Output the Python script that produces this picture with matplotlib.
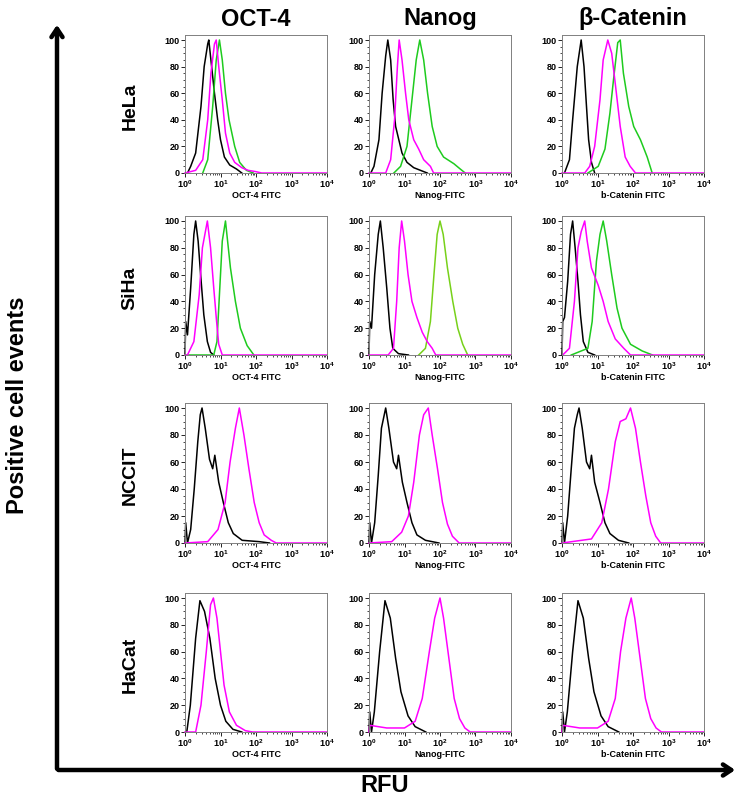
import numpy as np
import matplotlib as mpl
mpl.use('Agg')
import matplotlib.pyplot as plt
from matplotlib.ticker import LogLocator, MultipleLocator, FixedLocator

plt.rcParams['font.family'] = ['Liberation Sans', 'DejaVu Sans']
plt.rcParams['mathtext.fontset'] = 'custom'
plt.rcParams['mathtext.rm'] = 'Liberation Sans:bold'
plt.rcParams['mathtext.bf'] = 'Liberation Sans:bold'

cell_lines = ['HeLa', 'SiHa', 'NCCIT', 'HaCat']
markers = ['OCT-4', 'Nanog', '\u03b2-Catenin']
xlabels = ['OCT-4 FITC', 'Nanog-FITC', 'b-Catenin FITC']

# curves: (log10 FITC, % of max)
# HeLa
hela_oct4_iso = ([0.07, 0.16, 0.3, 0.45, 0.54, 0.64, 0.67, 0.73, 0.83, 0.92, 1.0, 1.11, 1.26, 1.45, 1.6],
                 [0, 5, 15, 50, 80, 97, 100, 85, 60, 40, 25, 12, 6, 3, 0])
hela_oct4_mag = ([0.0, 0.3, 0.5, 0.64, 0.73, 0.83, 0.88, 0.95, 1.05, 1.14, 1.26, 1.4, 1.6, 1.78, 2.0, 2.16, 4.0],
                 [0, 2, 10, 40, 75, 97, 100, 80, 55, 30, 15, 8, 4, 2, 1, 0, 0])
hela_oct4_grn = ([0.5, 0.64, 0.78, 0.88, 0.97, 1.05, 1.14, 1.24, 1.4, 1.54, 1.73, 1.92],
                 [0, 10, 50, 85, 100, 85, 60, 40, 20, 8, 2, 0])
hela_nanog_iso = ([0.05, 0.14, 0.28, 0.37, 0.47, 0.53, 0.61, 0.68, 0.75, 0.84, 0.93, 1.07, 1.26, 1.45, 1.64],
                  [0, 5, 25, 60, 88, 100, 85, 55, 35, 25, 15, 8, 4, 2, 0])
hela_nanog_mag = ([0.0, 0.47, 0.61, 0.72, 0.8, 0.85, 0.93, 1.03, 1.12, 1.26, 1.4, 1.54, 1.73, 1.82, 4.0],
                  [0, 0, 10, 40, 80, 100, 85, 60, 40, 25, 18, 10, 5, 0, 0])
hela_nanog_grn = ([0.7, 0.89, 1.07, 1.21, 1.33, 1.43, 1.54, 1.65, 1.78, 1.92, 2.1, 2.39, 2.57, 2.71],
                  [0, 5, 20, 55, 85, 100, 85, 60, 35, 20, 12, 7, 3, 0])
hela_bcat_iso = ([0.07, 0.21, 0.3, 0.43, 0.54, 0.62, 0.69, 0.75, 0.83, 0.92],
                 [0, 10, 40, 80, 100, 80, 50, 25, 8, 0])
hela_bcat_mag = ([0.0, 0.64, 0.78, 0.92, 1.07, 1.16, 1.29, 1.4, 1.51, 1.64, 1.78, 1.92, 2.07, 4.0],
                 [0, 0, 5, 20, 55, 85, 100, 90, 65, 35, 12, 5, 0, 0])
hela_bcat_grn = ([0.73, 1.02, 1.21, 1.35, 1.45, 1.57, 1.64, 1.73, 1.88, 2.02, 2.21, 2.4, 2.54],
                 [0, 5, 18, 45, 70, 98, 100, 75, 50, 35, 25, 12, 0])
# SiHa
siha_oct4_iso = ([0.0, 0.02, 0.07, 0.16, 0.25, 0.3, 0.37, 0.44, 0.53, 0.63, 0.72, 0.81],
                 [0, 25, 15, 50, 90, 100, 85, 60, 30, 10, 2, 0])
siha_oct4_mag = ([0.0, 0.07, 0.25, 0.4, 0.49, 0.63, 0.72, 0.81, 0.89, 0.95, 1.05, 4.0],
                 [0, 0, 10, 45, 80, 100, 80, 50, 25, 8, 0, 0])
siha_oct4_grn = ([0.0, 0.81, 0.9, 0.98, 1.05, 1.14, 1.2, 1.28, 1.42, 1.56, 1.75, 1.94],
                 [0, 0, 10, 50, 85, 100, 85, 65, 40, 20, 7, 0])
siha_nanog_iso = ([0.0, 0.02, 0.07, 0.16, 0.26, 0.32, 0.4, 0.5, 0.59, 0.67, 0.83, 1.11],
                  [0, 25, 20, 60, 90, 100, 80, 50, 20, 5, 1, 0])
siha_nanog_mag = ([0.0, 0.54, 0.69, 0.78, 0.85, 0.92, 1.0, 1.1, 1.21, 1.35, 1.5, 1.64, 1.78, 1.88, 4.0],
                  [0, 0, 5, 40, 80, 100, 85, 60, 40, 28, 17, 10, 5, 0, 0])
siha_nanog_grn = ([1.4, 1.59, 1.73, 1.83, 1.92, 2.0, 2.09, 2.21, 2.36, 2.5, 2.64, 2.78],
                  [0, 5, 25, 60, 90, 100, 90, 65, 40, 20, 8, 0])
siha_bcat_iso = ([0.0, 0.02, 0.07, 0.16, 0.24, 0.3, 0.37, 0.45, 0.52, 0.6, 0.73, 0.92],
                 [0, 25, 28, 55, 90, 100, 80, 55, 30, 10, 2, 0])
siha_bcat_mag = ([0.02, 0.21, 0.35, 0.45, 0.54, 0.64, 0.71, 0.83, 1.02, 1.16, 1.3, 1.5, 1.74, 1.93, 4.0],
                 [0, 5, 40, 80, 92, 100, 85, 65, 52, 40, 25, 12, 5, 0, 0])
siha_bcat_grn = ([0.26, 0.54, 0.73, 0.85, 0.97, 1.07, 1.16, 1.26, 1.4, 1.55, 1.69, 1.93, 2.26, 2.55],
                 [0, 3, 5, 25, 70, 90, 100, 85, 60, 35, 20, 8, 3, 0])
# NCCIT
nccit_oct4_iso = ([0.0, 0.02, 0.07, 0.16, 0.26, 0.36, 0.43, 0.48, 0.57, 0.69, 0.78, 0.84, 0.95, 1.08, 1.22, 1.36, 1.61, 2.09, 2.38],
                  [0, 15, 0, 10, 40, 75, 95, 100, 85, 62, 55, 65, 45, 30, 15, 7, 2, 1, 0])
nccit_oct4_mag = ([0.0, 0.64, 0.93, 1.13, 1.27, 1.42, 1.53, 1.66, 1.8, 1.95, 2.09, 2.23, 2.43, 2.57, 4.0],
                  [0, 1, 10, 30, 60, 85, 100, 80, 55, 30, 15, 6, 2, 0, 0])
nccit_nanog_iso = ([0.0, 0.02, 0.07, 0.16, 0.26, 0.35, 0.43, 0.47, 0.56, 0.69, 0.78, 0.83, 0.94, 1.07, 1.21, 1.35, 1.59, 1.97],
                   [0, 15, 0, 15, 50, 85, 95, 100, 85, 60, 55, 65, 45, 30, 15, 6, 2, 0])
nccit_nanog_mag = ([0.0, 0.64, 0.92, 1.11, 1.26, 1.42, 1.54, 1.67, 1.78, 1.93, 2.07, 2.21, 2.35, 2.54, 4.0],
                   [0, 1, 8, 20, 45, 80, 95, 100, 80, 55, 30, 14, 5, 0, 0])
nccit_bcat_iso = ([0.0, 0.02, 0.07, 0.16, 0.26, 0.35, 0.43, 0.48, 0.57, 0.69, 0.78, 0.83, 0.92, 1.07, 1.21, 1.35, 1.59, 1.88],
                  [0, 15, 0, 20, 55, 85, 95, 100, 85, 60, 55, 65, 45, 30, 15, 7, 2, 0])
nccit_bcat_mag = ([0.0, 0.83, 1.12, 1.31, 1.5, 1.64, 1.8, 1.93, 2.07, 2.21, 2.36, 2.5, 2.64, 2.78, 4.0],
                  [0, 3, 15, 40, 75, 90, 92, 100, 85, 60, 35, 15, 5, 0, 0])
# HaCat
hacat_oct4_iso = ([0.05, 0.15, 0.3, 0.42, 0.55, 0.7, 0.85, 1.0, 1.15, 1.35, 1.6],
                  [0, 20, 70, 98, 90, 70, 40, 20, 8, 2, 0])
hacat_oct4_mag = ([0.0, 0.3, 0.45, 0.6, 0.72, 0.8, 0.9, 1.0, 1.1, 1.25, 1.45, 1.7, 1.9, 4.0],
                  [0, 0, 20, 60, 95, 100, 85, 60, 35, 15, 5, 1, 0, 0])
hacat_nanog_iso = ([0.0, 0.02, 0.07, 0.15, 0.3, 0.45, 0.6, 0.75, 0.9, 1.1, 1.3, 1.6],
                   [0, 15, 0, 15, 60, 98, 85, 55, 30, 12, 4, 0])
hacat_nanog_mag = ([0.0, 0.02, 0.5, 1.0, 1.3, 1.5, 1.7, 1.85, 2.0, 2.1, 2.25, 2.4, 2.55, 2.7, 2.85, 4.0],
                   [0, 5, 3, 3, 8, 25, 60, 85, 100, 85, 55, 25, 10, 3, 0, 0])
hacat_bcat_iso = ([0.0, 0.02, 0.07, 0.15, 0.3, 0.45, 0.6, 0.75, 0.9, 1.1, 1.3, 1.6],
                  [0, 15, 0, 15, 60, 98, 85, 55, 30, 12, 4, 0])
hacat_bcat_mag = ([0.0, 0.02, 0.5, 1.0, 1.3, 1.5, 1.65, 1.8, 1.95, 2.05, 2.2, 2.35, 2.5, 2.65, 2.8, 4.0],
                  [0, 5, 3, 3, 8, 25, 60, 85, 100, 85, 55, 25, 10, 3, 0, 0])

BLACK, MAG, GRN, YGRN = 'black', '#ff00ff', '#1ecb1e', '#77d11a'

# drawing order: isotype, green, magenta (magenta baseline ends on top)
panels = [
    [[(hela_oct4_iso, BLACK), (hela_oct4_grn, GRN), (hela_oct4_mag, MAG)],
     [(hela_nanog_iso, BLACK), (hela_nanog_grn, GRN), (hela_nanog_mag, MAG)],
     [(hela_bcat_iso, BLACK), (hela_bcat_grn, GRN), (hela_bcat_mag, MAG)]],
    [[(siha_oct4_iso, BLACK), (siha_oct4_grn, GRN), (siha_oct4_mag, MAG)],
     [(siha_nanog_iso, BLACK), (siha_nanog_grn, YGRN), (siha_nanog_mag, MAG)],
     [(siha_bcat_iso, BLACK), (siha_bcat_grn, GRN), (siha_bcat_mag, MAG)]],
    [[(nccit_oct4_iso, BLACK), (nccit_oct4_mag, MAG)],
     [(nccit_nanog_iso, BLACK), (nccit_nanog_mag, MAG)],
     [(nccit_bcat_iso, BLACK), (nccit_bcat_mag, MAG)]],
    [[(hacat_oct4_iso, BLACK), (hacat_oct4_mag, MAG)],
     [(hacat_nanog_iso, BLACK), (hacat_nanog_mag, MAG)],
     [(hacat_bcat_iso, BLACK), (hacat_bcat_mag, MAG)]],
]

W, H = 742, 800
fig = plt.figure(figsize=(W / 100, H / 100), dpi=100)

col_left = [185, 369, 562]
col_w = 142
row_zero = [173, 355, 543, 732]
row_hundred = [40, 221, 408, 598]
YTOP = 104

for r in range(4):
    span = row_zero[r] - row_hundred[r]
    top = row_zero[r] - span * YTOP / 100
    for c in range(3):
        ax = fig.add_axes([col_left[c] / W, 1 - row_zero[r] / H, col_w / W, (row_zero[r] - top) / H])
        for (lx, yv), colr in panels[r][c]:
            ax.plot(10 ** np.array(lx), yv, color=colr, lw=1.1, clip_on=False)
        ax.set_xscale('log')
        ax.set_xlim(1, 1e4)
        ax.set_ylim(0, YTOP)
        ax.xaxis.set_major_locator(FixedLocator([1, 10, 100, 1000, 10000]))
        ax.xaxis.set_minor_locator(LogLocator(base=10, subs=np.arange(2, 10)))
        ax.set_xticklabels([r'$\mathbf{10^{%d}}$' % k for k in range(5)])
        ax.yaxis.set_major_locator(MultipleLocator(20))
        ax.yaxis.set_minor_locator(MultipleLocator(5))
        ax.tick_params(which='major', direction='out', length=3, width=0.6, labelsize=6.5, pad=1)
        ax.tick_params(which='minor', direction='out', length=1.5, width=0.5)
        for lab in ax.get_yticklabels():
            lab.set_fontweight('bold')
        for s in ax.spines.values():
            s.set_color('#808080')
            s.set_linewidth(0.7)
        ax.set_xlabel(xlabels[c], fontsize=6.5, fontweight='bold', labelpad=0.5)

# column titles
title_font = ['Liberation Sans Narrow', 'Liberation Sans', 'DejaVu Sans']
for c in range(3):
    fig.text((col_left[c] + col_w / 2) / W, 1 - 19 / H, markers[c], ha='center', va='center',
             fontsize=17, fontweight='bold', family=title_font)

# row titles
for r in range(4):
    yc = (row_zero[r] + row_hundred[r]) / 2
    fig.text(130 / W, 1 - yc / H, cell_lines[r], ha='center', va='center', rotation=90,
             fontsize=14, fontweight='bold')

fig.text(18 / W, 1 - 405 / H, 'Positive cell events', ha='center', va='center', rotation=90,
         fontsize=17, fontweight='bold')
fig.text(385 / W, 1 - 786 / H, 'RFU', ha='center', va='center', fontsize=17, fontweight='bold',
         family=title_font)

# big axis arrows
ox, oy = 57 / W, 1 - 770 / H
fig.add_artist(mpl.patches.FancyArrowPatch((ox, oy - 0.002), (ox, 1 - 22 / H), transform=fig.transFigure,
                                           arrowstyle='->,head_length=6,head_width=4', lw=3.2, color='black'))
fig.add_artist(mpl.patches.FancyArrowPatch((ox - 0.002, oy), (738 / W, oy), transform=fig.transFigure,
                                           arrowstyle='->,head_length=6,head_width=4', lw=3.2, color='black'))

fig.savefig('out.png', dpi=100)
